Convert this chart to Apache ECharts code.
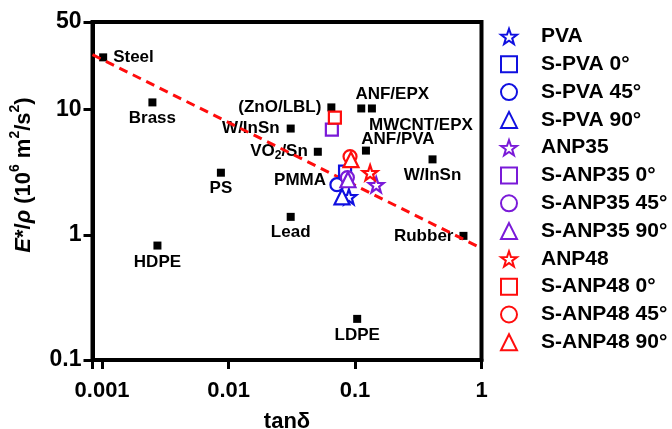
<!DOCTYPE html>
<html>
<head>
<meta charset="utf-8">
<script src="https://cdn.jsdelivr.net/npm/echarts@6/dist/echarts.min.js"></script>
<style>
  html, body { margin: 0; padding: 0; background: #fff; }
  #chart { width: 672px; height: 429px; }
</style>
</head>
<body>
<div id="chart"></div>
<script>
// ---- Reference materials (black squares) ----
const refNames = ['Steel', 'Brass', 'HDPE', 'PS', 'W/InSn', 'Lead', 'VO₂/Sn', '(ZnO/LBL)', 'PMMA', 'LDPE', 'ANF/EPX', 'MWCNT/EPX', 'ANF/PVA', 'W/InSn', 'Rubber'];
const refX = [0.00102, 0.0025, 0.00274, 0.0087, 0.031, 0.031, 0.0508, 0.065, 0.0789, 0.104, 0.112, 0.136, 0.122, 0.41, 0.72];
const refY = [26.1, 11.4, 0.82, 3.13, 7.05, 1.39, 4.6, 10.4, 2.70, 0.213, 10.2, 10.2, 4.7, 4.0, 0.98];

// ---- This work (coloured hollow symbols) ----
const seriesNames = ['PVA', 'S-PVA 0°', 'S-PVA 45°', 'S-PVA 90°', 'ANP35', 'S-ANP35 0°', 'S-ANP35 45°', 'S-ANP35 90°', 'ANP48', 'S-ANP48 0°', 'S-ANP48 45°', 'S-ANP48 90°'];
const seriesX = [0.0895, 0.0834, 0.0719, 0.0789, 0.147, 0.0656, 0.087, 0.0879, 0.1316, 0.0693, 0.0913, 0.0929];
const seriesY = [2.01, 3.19, 2.51, 2.01, 2.51, 6.92, 2.86, 2.75, 3.13, 8.63, 4.21, 3.98];

// ---- Dashed trend line ----
const fitX = [0.00084, 1];
const fitY = [27.4, 0.78];

// ---- Axis texts ----
const xTitle = 'tanδ';
const yTitleRich = '{i|E}*/{i|ρ} (10{s|6} m{s|2}/s{s|2})';

// ---- styling (separate from data) ----
const FONT = 'Arial, "Liberation Sans", sans-serif';
const STAR = 'path://M50 0 L61.76 33.82 L97.55 34.55 L69.02 56.18 L79.39 90.45 L50 70 L20.61 90.45 L30.98 56.18 L2.45 34.55 L38.24 33.82 Z';
const colorOf = ['#1010e0', '#1010e0', '#1010e0', '#1010e0', '#7a1ad8', '#7a1ad8', '#7a1ad8', '#7a1ad8', '#ff0d0d', '#ff0d0d', '#ff0d0d', '#ff0d0d'];
const symbolOf = [STAR, 'rect', 'circle', 'triangle', STAR, 'rect', 'circle', 'triangle', STAR, 'rect', 'circle', 'triangle'];
const symbolSizeOf = [15, 12, 13, 15, 15, 12, 13, 15, 15, 12, 13, 15];
const labelPlacement = [
  { position: 'right', distance: 6 },
  { position: 'bottom', distance: 3 },
  { position: 'bottom', distance: 4 },
  { position: 'bottom', distance: 3 },
  { position: 'left', distance: 7 },
  { position: 'bottom', distance: 3 },
  { position: 'left', distance: 6 },
  { position: 'left', distance: 6 },
  { position: 'left', distance: 12 },
  { position: 'bottom', distance: 4 },
  { position: 'top', distance: 2, offset: [31, 0] },
  { position: 'bottom', distance: 4, offset: [49, 0] },
  { position: 'top', distance: -1, offset: [32, 0] },
  { position: 'bottom', distance: 3 },
  { position: 'left', distance: 6 }
];

const chart = echarts.init(document.getElementById('chart'), null, { renderer: 'canvas' });

const refData = refX.map((x, i) => ({
  value: [x, refY[i]],
  name: refNames[i],
  label: labelPlacement[i]
}));

const series = [
  {
    type: 'scatter',
    name: 'materials',
    data: refData,
    symbol: 'rect',
    symbolSize: 8,
    itemStyle: { color: '#000', opacity: 1 },
    label: {
      show: true,
      color: '#000',
      opacity: 1,
      fontFamily: FONT,
      fontWeight: 'bold',
      fontSize: 17,
      formatter: p => p.name.indexOf('₂') >= 0 ? p.name.replace('₂', '{sub|2}') : p.name,
      rich: {
        sub: { fontSize: 12, fontWeight: 'bold', fontFamily: FONT, color: '#000', verticalAlign: 'bottom', padding: [8, 0, 0, 0] }
      }
    },
    z: 2
  },
  {
    type: 'line',
    name: 'fit',
    data: fitX.map((x, i) => [x, fitY[i]]),
    showSymbol: false,
    symbol: 'none',
    lineStyle: { color: '#ff0d0d', width: 3, type: [9, 6] },
    silent: true,
    z: 3
  }
];

seriesNames.forEach((n, i) => {
  series.push({
    type: 'scatter',
    name: n,
    data: [[seriesX[i], seriesY[i]]],
    symbol: symbolOf[i],
    symbolSize: symbolSizeOf[i],
    itemStyle: { color: '#fff', borderColor: colorOf[i], borderWidth: 2.2, opacity: 1 },
    z: 4
  });
});

chart.setOption({
  animation: false,
  backgroundColor: '#fff',
  grid: {
    left: 92.5, right: 190.5, top: 22, bottom: 69,
    outerBoundsMode: 'none',
    containLabel: false,
    show: true, borderColor: '#000', borderWidth: 4, backgroundColor: 'transparent'
  },
  legend: {
    orient: 'vertical',
    left: 495, top: 21,
    itemWidth: 16, itemHeight: 16,
    itemGap: 6.8,
    data: seriesNames,
    textStyle: {
      fontFamily: FONT, fontWeight: 'bold', fontSize: 21, color: '#000',
      lineHeight: 21, padding: [0, 0, 0, 19]
    }
  },
  xAxis: {
    type: 'log',
    min: 0.00084, max: 1,
    logBase: 10,
    name: xTitle,
    nameLocation: 'middle',
    nameGap: 51,
    nameTextStyle: { fontFamily: FONT, fontWeight: 'bold', fontSize: 22, color: '#000' },
    axisLine: { show: true, lineStyle: { color: '#000', width: 4 } },
    axisTick: { show: true, length: 9, lineStyle: { color: '#000', width: 3 } },
    minorTick: { show: false },
    splitLine: { show: false },
    axisLabel: {
      margin: 20,
      fontFamily: FONT, fontWeight: 'bold', fontSize: 22, color: '#000',
      formatter: v => {
        const l = Math.log10(v);
        return Math.abs(l - Math.round(l)) < 1e-6 ? String(+v.toPrecision(3)) : '';
      }
    }
  },
  yAxis: {
    type: 'log',
    min: 0.1, max: 50,
    logBase: 10,
    name: yTitleRich,
    nameLocation: 'middle',
    nameGap: 41,
    nameTextStyle: {
      fontFamily: FONT, fontWeight: 'bold', fontSize: 22, color: '#000',
      lineHeight: 30,
      padding: [0, 0, 0, 32],
      rich: {
        i: { fontFamily: FONT, fontWeight: 'bold', fontStyle: 'italic', fontSize: 22, color: '#000' },
        s: { fontFamily: FONT, fontWeight: 'bold', fontSize: 14, color: '#000', verticalAlign: 'top' }
      }
    },
    axisLine: { show: true, lineStyle: { color: '#000', width: 4 } },
    axisTick: { show: true, length: 9, lineStyle: { color: '#000', width: 3 } },
    minorTick: { show: false },
    splitLine: { show: false },
    axisLabel: {
      margin: 11,
      fontFamily: FONT, fontWeight: 'bold', fontSize: 23, color: '#000',
      formatter: v => String(+v.toPrecision(3))
    }
  },
  series: series
});
</script>
</body>
</html>
